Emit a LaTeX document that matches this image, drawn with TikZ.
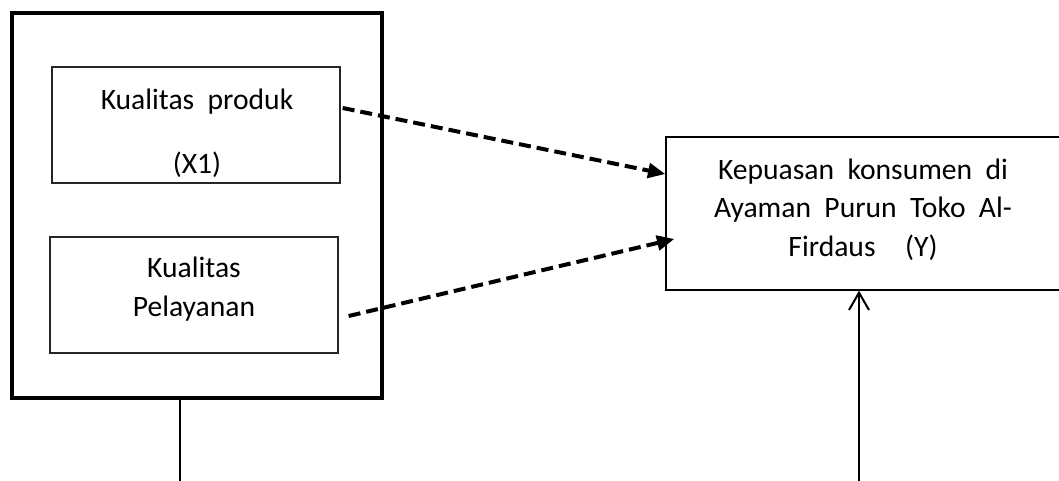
\documentclass[tikz,border=0pt]{standalone}
\usepackage{fontspec}
\setmainfont{Carlito}
\usetikzlibrary{arrows.meta}
\begin{document}
\begin{tikzpicture}[x=0.75pt,y=-0.75pt,
    kotak/.style={draw=black!85,line width=1pt,minimum width=216pt,minimum height=87pt,inner sep=0pt},
    teks/.style={align=center,inner sep=0pt,font=\fontsize{22.2}{29}\selectfont},
    panah/.style={line width=3pt,dash pattern=on 9pt off 4.5pt,-{Triangle[length=13pt,width=11pt]}}]
    \useasboundingbox(0,0)rectangle(1059,481);
    \node[draw,line width=3pt,minimum width=277.5pt,minimum height=288.75pt,inner sep=0pt](grup)at(197,205.5){};
    \node[kotak](kp)at(196,125){};
    \node[kotak](kl)at(194,295){};
    \node[draw,line width=1pt,minimum width=355.5pt,minimum height=114.75pt,inner sep=0pt](kk)at(903,213.5){};
    \node[teks](kptext)at(197,133){Kualitas\ \ produk\\[19pt](X1)};
    \node[teks](kltext)at(194,289){Kualitas\\Pelayanan};
    \node[teks](kktext)at(863,209.5){Kepuasan\ \ konsumen\ \ di\\Ayaman\ \ Purun\ \ Toko\ \ Al-\\Firdaus\hspace{1em}(Y)};
    \draw[panah]([xshift=1.5pt,yshift=12.75pt]kp.east)--([yshift=29.6pt]kk.west);
    \draw[panah]([xshift=7.5pt,yshift=-15.75pt]kl.east)--([xshift=6.75pt,yshift=-19.1pt]kk.west);
    \coordinate(a)at(180,485);
    \coordinate(b)at(859,485);
    \draw[line width=1.5pt](grup.south-|a)--(a);
    \draw[line width=1.5pt,-{Straight Barb[length=13pt,width=15pt]}](b)--(b|-kk.south);
\end{tikzpicture}
\end{document}
